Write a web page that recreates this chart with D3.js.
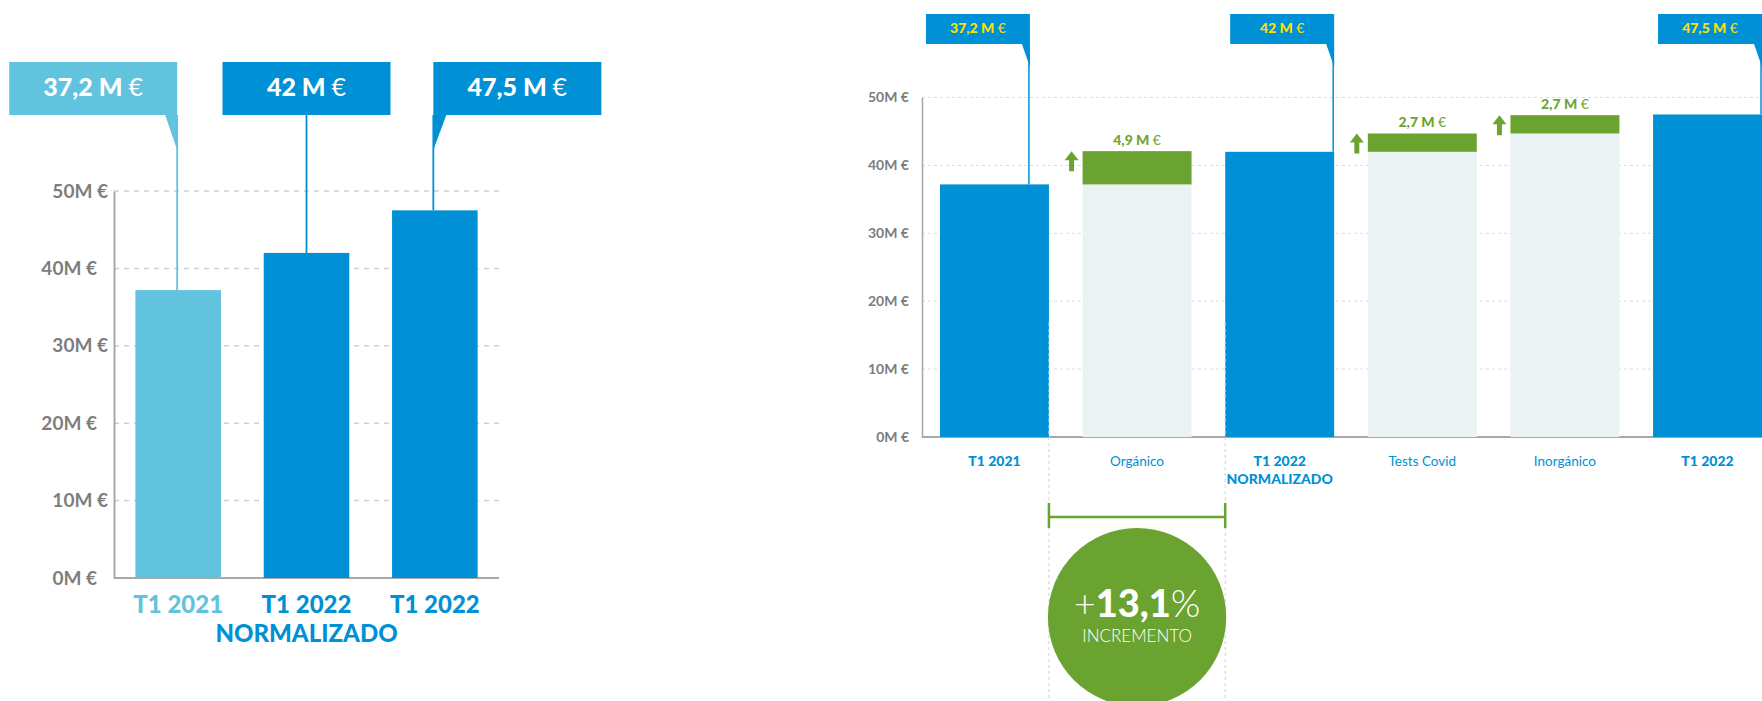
<!DOCTYPE html>
<html>
<head>
<meta charset="utf-8">
<script src="https://cdn.jsdelivr.net/npm/d3@7/dist/d3.min.js"></script>
<style>
  body { margin: 0; background: #fff; }
  svg { display: block; font-family: Lato, "Open Sans", sans-serif; }
</style>
</head>
<body>
<svg id="chart" width="1762" height="701"></svg>
<script>
// values
const leftCategories = [["T1 2021"], ["T1 2022", "NORMALIZADO"], ["T1 2022"]];
const leftValues = [37.2, 42, 47.5];
const leftLabels = ["37,2", "42", "47,5"];

const rightCategories = [["T1 2021"], ["Orgánico"], ["T1 2022", "NORMALIZADO"], ["Tests Covid"], ["Inorgánico"], ["T1 2022"]];
const rightValues = [37.2, 4.9, 42, 2.7, 2.7, 47.5];
const rightKinds = ["total", "delta", "total", "delta", "delta", "total"];
const rightLabels = ["37,2", "4,9", "42", "2,7", "2,7", "47,5"];

const yTicks = [0, 10, 20, 30, 40, 50];
const incrementLabel = "13,1";

const BLUE = "#0090d5", LIGHT = "#62c3de", GREEN = "#6ba331", PALE = "#eaf2f4", YELLOW = "#ffe100";
const svg = d3.select("#chart");

// ---------- left chart ----------
{
  const x = d3.scaleBand().domain(d3.range(leftValues.length))
    .range([114, 499]).paddingInner(1 / 3).paddingOuter(1 / 6);
  const y = d3.scaleLinear().domain([0, 50]).range([578, 191]);
  const g = svg.append("g");
  const col = i => i === 0 ? LIGHT : BLUE;

  g.selectAll(".grid").data(yTicks.filter(d => d > 0)).enter().append("line")
    .attr("x1", 114).attr("x2", 499)
    .attr("y1", d => y(d)).attr("y2", d => y(d))
    .attr("stroke", "#cfcfcf").attr("stroke-width", 1.5).attr("stroke-dasharray", "5,5");

  const ax = g.append("g").attr("transform", "translate(114,0)")
    .call(d3.axisLeft(y).tickValues(yTicks).tickSize(0).tickPadding(6).tickFormat(d => d + "M €"));
  ax.select(".domain").attr("stroke", "#a8a8a8").attr("stroke-width", 2);
  ax.selectAll("text").attr("fill", "#7d7d7d").attr("font-size", 19).attr("font-weight", 700)
    .attr("font-family", "Lato, sans-serif")
    .attr("dx", d => (d / 10) % 2 ? 0 : -11);

  g.append("line").attr("x1", 114).attr("x2", 499).attr("y1", y(0)).attr("y2", y(0))
    .attr("stroke", "#a8a8a8").attr("stroke-width", 2);

  g.selectAll(".bar").data(leftValues).enter().append("rect")
    .attr("x", (d, i) => x(i)).attr("width", x.bandwidth())
    .attr("y", d => y(d)).attr("height", d => y(0) - y(d))
    .attr("fill", (d, i) => col(i));

  // callout boxes
  const bw = 168, top = 62, bh = 53, tail = 35;
  const align = ["end", "middle", "start"];
  leftValues.forEach((v, i) => {
    const cx = x(i) + x.bandwidth() / 2;
    const lx = align[i] === "end" ? cx - 1 : align[i] === "start" ? cx - 1.5 : cx;
    const bx = align[i] === "end" ? lx - bw : align[i] === "middle" ? cx - bw / 2 : lx;
    g.append("rect").attr("x", bx).attr("y", top).attr("width", bw).attr("height", bh).attr("fill", col(i));
    if (align[i] === "end")
      g.append("path").attr("d", `M${lx - 12},${top + bh}L${lx},${top + bh}L${lx},${top + bh + tail}Z`).attr("fill", col(i));
    if (align[i] === "start")
      g.append("path").attr("d", `M${lx},${top + bh}L${lx + 13},${top + bh}L${lx},${top + bh + tail}Z`).attr("fill", col(i));
    g.append("line").attr("x1", lx).attr("x2", lx)
      .attr("y1", top + bh).attr("y2", y(v))
      .attr("stroke", col(i)).attr("stroke-width", 1.8);
    const t = g.append("text").attr("x", bx + bw / 2).attr("y", top + 34)
      .attr("text-anchor", "middle").attr("fill", "#fff").attr("font-size", 25).attr("font-weight", 900);
    t.append("tspan").text(leftLabels[i] + " M ");
    t.append("tspan").attr("font-weight", 400).text("€");
  });

  leftCategories.forEach((lines, i) => {
    const cx = x(i) + x.bandwidth() / 2;
    lines.forEach((s, k) => {
      g.append("text").attr("x", cx).attr("y", 613 + k * 29)
        .attr("text-anchor", "middle").attr("fill", col(i))
        .attr("font-size", 24).attr("font-weight", 900).text(s);
    });
  });
}

// ---------- right chart (waterfall) ----------
{
  const x = d3.scaleBand().domain(d3.range(rightValues.length))
    .range([922, 1780]).paddingInner(0.236).paddingOuter(0.126);
  const y = d3.scaleLinear().domain([0, 50]).range([437, 97.5]);
  const g = svg.append("g");

  // running totals for the floating bars
  let run = 0;
  const steps = rightValues.map((v, i) => {
    if (rightKinds[i] === "total") { run = v; return { base: 0, top: v, kind: "total" }; }
    const s = { base: run, top: run + v, kind: "delta" };
    run += v;
    return s;
  });

  g.selectAll(".grid").data(yTicks.filter(d => d > 0)).enter().append("line")
    .attr("x1", 922).attr("x2", 1762)
    .attr("y1", d => y(d)).attr("y2", d => y(d))
    .attr("stroke", "#dcdcdc").attr("stroke-width", 1).attr("stroke-dasharray", "3,3");

  const ax = g.append("g").attr("transform", "translate(922,0)")
    .call(d3.axisLeft(y).tickValues(yTicks).tickSize(0).tickPadding(13).tickFormat(d => d + "M €"));
  ax.select(".domain").attr("stroke", "#a8a8a8").attr("stroke-width", 1.5);
  ax.selectAll("text").attr("fill", "#7d7d7d").attr("font-size", 14).attr("font-weight", 700)
    .attr("font-family", "Lato, sans-serif");

  g.append("line").attr("x1", 922).attr("x2", 1762).attr("y1", y(0)).attr("y2", y(0))
    .attr("stroke", "#a8a8a8").attr("stroke-width", 2);

  // pale base under the increments
  g.selectAll(".base").data(steps.filter(s => s.kind === "delta")).enter().append("rect")
    .attr("x", s => x(steps.indexOf(s))).attr("width", x.bandwidth())
    .attr("y", s => y(s.base)).attr("height", s => y(0) - y(s.base))
    .attr("fill", PALE);

  g.selectAll(".bar").data(steps).enter().append("rect")
    .attr("x", (s, i) => x(i)).attr("width", x.bandwidth())
    .attr("y", s => y(s.top)).attr("height", s => y(s.base) - y(s.top))
    .attr("fill", s => s.kind === "total" ? BLUE : GREEN);

  // increment labels and arrows
  steps.forEach((s, i) => {
    if (s.kind !== "delta") return;
    const t = g.append("text").attr("x", x(i) + x.bandwidth() / 2).attr("y", y(s.top) - 6)
      .attr("text-anchor", "middle").attr("fill", GREEN).attr("font-size", 14).attr("font-weight", 900);
    t.append("tspan").text(rightLabels[i] + " M ");
    t.append("tspan").attr("font-weight", 400).text("€");
    const ax0 = x(i) - 11, ay = y(s.top);
    g.append("path")
      .attr("d", `M${ax0},${ay}L${ax0 + 7},${ay + 9}L${ax0 + 2.5},${ay + 9}L${ax0 + 2.5},${ay + 20}L${ax0 - 2.5},${ay + 20}L${ax0 - 2.5},${ay + 9}L${ax0 - 7},${ay + 9}Z`)
      .attr("fill", GREEN);
  });

  // callouts for the totals
  const bw = 104, top = 14, bh = 30, tail = 23;
  const shift = [-19, 0, 0];
  steps.map((s, i) => i).filter(i => steps[i].kind === "total").forEach((i, k) => {
    const r = x(i) + x.bandwidth() + shift[k];
    g.append("rect").attr("x", r - bw).attr("y", top).attr("width", bw).attr("height", bh).attr("fill", BLUE);
    g.append("path").attr("d", `M${r - 8},${top + bh}L${r},${top + bh}L${r},${top + bh + tail}Z`).attr("fill", BLUE);
    g.append("line").attr("x1", r - 1).attr("x2", r - 1).attr("y1", top + bh).attr("y2", y(steps[i].top))
      .attr("stroke", BLUE).attr("stroke-width", 1.5);
    const t = g.append("text").attr("x", r - bw / 2).attr("y", top + 19)
      .attr("text-anchor", "middle").attr("fill", YELLOW).attr("font-size", 14).attr("font-weight", 900);
    t.append("tspan").text(rightLabels[i] + " M ");
    t.append("tspan").attr("font-weight", 400).text("€");
  });

  rightCategories.forEach((lines, i) => {
    const cx = x(i) + x.bandwidth() / 2;
    const bold = rightKinds[i] === "total";
    lines.forEach((s, k) => {
      g.append("text").attr("x", cx).attr("y", 466 + k * 18)
        .attr("text-anchor", "middle").attr("fill", BLUE)
        .attr("font-size", bold ? 14 : 13.5).attr("font-weight", bold ? 900 : 400).text(s);
    });
  });

  // growth bracket between T1 2021 and T1 2022 normalizado
  const xa = x(0) + x.bandwidth(), xb = x(2);
  [xa, xb].forEach(xx => {
    g.append("line").attr("x1", xx).attr("x2", xx).attr("y1", 323).attr("y2", 701)
      .attr("stroke", "#cfcfcf").attr("stroke-width", 1).attr("stroke-dasharray", "3,3");
  });
  const by = 517;
  g.append("line").attr("x1", xa).attr("x2", xb).attr("y1", by).attr("y2", by)
    .attr("stroke", GREEN).attr("stroke-width", 2.5);
  [xa, xb].forEach(xx => {
    g.append("line").attr("x1", xx).attr("x2", xx).attr("y1", by - 14).attr("y2", by + 11)
      .attr("stroke", GREEN).attr("stroke-width", 2.5);
  });
  const cx = (xa + xb) / 2, rr = (xb - xa) / 2 + 1, cy = 528 + rr;
  g.append("circle").attr("cx", cx).attr("cy", cy).attr("r", rr).attr("fill", GREEN);
  const t = g.append("text").attr("x", cx).attr("y", 617).attr("text-anchor", "middle")
    .attr("fill", "#fff").attr("font-size", 38);
  t.append("tspan").attr("font-weight", 300).text("+");
  t.append("tspan").attr("font-weight", 900).text(incrementLabel);
  t.append("tspan").attr("font-weight", 300).text("%");
  g.append("text").attr("x", cx).attr("y", 642).attr("text-anchor", "middle")
    .attr("fill", "#fff").attr("font-size", 17).attr("font-weight", 300).text("INCREMENTO");
}
</script>
</body>
</html>
